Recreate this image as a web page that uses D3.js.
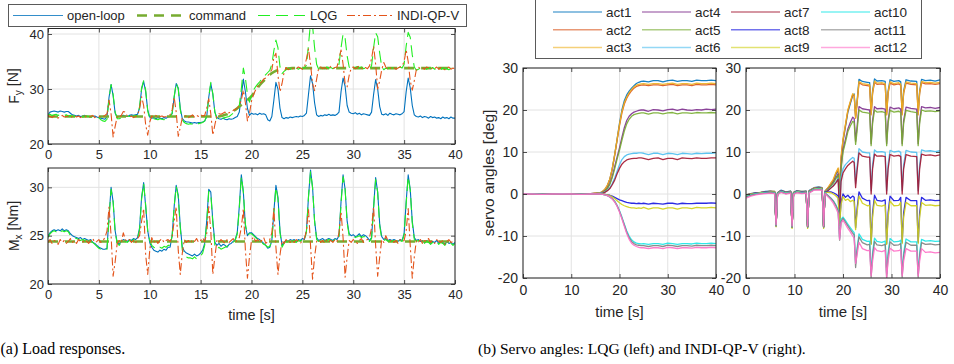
<!DOCTYPE html>
<html><head><meta charset="utf-8">
<script src="https://cdn.jsdelivr.net/npm/d3@7"></script>
<style>
body{margin:0;background:#fff;}
svg text{font-family:"Liberation Sans",Arial,Helvetica,sans-serif;fill:#262626;}
svg text.cap{font-family:"Liberation Serif","DejaVu Serif",serif;fill:#000;}
</style></head><body>
<svg id="chart" width="954" height="364"></svg>
<script>
// ---------------- DATA ----------------
// (a) load responses, sampled every 0.2 s from 0 to 40 s
const loadStep = 0.2;
const loadTime = d3.range(201).map(i => +(i * loadStep).toFixed(1));
const loadSeriesNames = ["open-loop", "command", "LQG", "INDI-QP-V"];

const fyOpenLoop = [
25.3,25.8,25.9,26.0,25.9,25.8,26.0,25.9,25.8,25.9,
25.9,25.6,25.3,25.2,25.1,25.2,25.0,25.1,25.2,25.0,
25.0,24.9,25.0,25.1,24.9,24.8,24.7,24.6,24.5,25.0,
28.5,30.8,28.8,25.6,24.9,25.0,25.1,25.2,25.1,25.0,
25.2,25.3,25.2,25.3,25.4,26.5,30.0,31.4,29.5,26.2,
24.9,24.7,24.8,24.6,24.8,24.7,24.6,24.8,24.7,24.9,
25.0,25.5,28.5,31.0,30.2,26.5,24.6,24.2,24.0,24.0,
23.9,23.8,23.9,23.8,23.9,23.9,24.0,24.2,25.0,28.5,
31.0,29.0,25.8,24.8,24.6,24.5,24.7,24.5,24.4,24.6,
24.5,24.6,24.8,25.0,25.8,28.8,31.8,29.5,26.5,25.2,
25.6,25.4,25.5,25.3,25.6,25.4,25.5,25.3,24.4,24.2,
25.0,28.0,31.2,30.0,26.5,24.8,24.6,24.8,24.7,24.9,
24.8,24.9,25.0,24.9,25.1,25.0,25.2,25.6,29.0,32.4,
31.0,27.5,25.3,25.0,25.2,25.1,25.3,25.2,25.4,25.2,
25.3,25.2,25.4,25.8,29.5,32.0,30.5,27.0,25.8,25.6,
25.5,25.7,25.4,25.6,25.3,25.5,25.4,25.3,25.2,25.8,
29.0,31.7,30.0,26.8,25.4,25.3,25.5,25.2,25.6,25.4,
25.3,25.5,25.4,25.3,25.5,25.9,29.5,32.0,30.2,27.0,
25.3,25.0,24.9,25.1,24.8,25.0,24.9,24.7,25.0,24.8,
24.9,24.7,24.8,24.6,24.9,24.7,24.8,24.6,24.9,24.7,
24.7];
const fyCommand = [
25.0,25.0,25.0,25.0,25.0,25.0,25.0,25.0,25.0,25.0,
25.0,25.0,25.0,25.0,25.0,25.0,25.0,25.0,25.0,25.0,
25.0,25.0,25.0,25.0,25.0,25.0,25.0,25.0,25.0,25.0,
25.0,25.0,25.0,25.0,25.0,25.0,25.0,25.0,25.0,25.0,
25.0,25.0,25.0,25.0,25.0,25.0,25.0,25.0,25.0,25.0,
25.0,25.0,25.0,25.0,25.0,25.0,25.0,25.0,25.0,25.0,
25.0,25.0,25.0,25.0,25.0,25.0,25.0,25.0,25.0,25.0,
25.0,25.0,25.0,25.0,25.0,25.0,25.0,25.0,25.0,25.0,
25.0,25.0,25.0,25.0,25.0,25.1,25.2,25.3,25.4,25.6,
25.8,26.0,26.2,26.5,26.8,27.1,27.4,27.7,28.0,28.3,
28.7,29.2,29.7,30.2,30.7,31.1,31.5,31.9,32.3,32.6,
32.9,33.1,33.3,33.4,33.5,33.6,33.65,33.7,33.7,33.75,
33.8,33.8,33.8,33.8,33.8,33.8,33.8,33.8,33.8,33.8,
33.8,33.8,33.8,33.8,33.8,33.8,33.8,33.8,33.8,33.8,
33.8,33.8,33.8,33.8,33.8,33.8,33.8,33.8,33.8,33.8,
33.8,33.8,33.8,33.8,33.8,33.8,33.8,33.8,33.8,33.8,
33.8,33.8,33.8,33.8,33.8,33.8,33.8,33.8,33.8,33.8,
33.8,33.8,33.8,33.8,33.8,33.8,33.8,33.8,33.8,33.8,
33.8,33.8,33.8,33.8,33.8,33.8,33.8,33.8,33.8,33.8,
33.8,33.8,33.8,33.8,33.8,33.8,33.8,33.8,33.8,33.8,
33.8];
const fyLQG = [
25.3,25.4,25.2,25.3,25.4,25.2,25.3,25.1,25.2,25.3,
25.1,25.2,25.0,25.1,24.9,25.0,25.1,24.9,25.0,25.1,
25.0,24.9,25.0,24.8,24.9,24.8,24.4,24.2,24.1,24.5,
28.2,30.8,29.0,25.8,24.6,24.6,24.7,24.9,25.0,25.1,
25.0,25.1,25.0,25.2,25.1,26.8,30.2,31.5,29.8,26.0,
24.6,24.5,24.6,24.5,24.4,24.6,24.5,24.4,24.6,24.8,
25.0,25.6,28.6,31.1,30.0,26.2,24.4,23.9,23.7,23.6,
23.7,23.6,23.8,23.6,23.7,23.8,23.9,24.2,25.0,28.6,
31.2,29.2,25.8,24.5,24.4,24.5,24.7,24.8,24.9,25.0,
25.3,25.6,25.9,26.3,27.0,30.0,33.8,32.0,29.0,27.6,
28.8,29.8,30.4,30.9,31.3,31.8,32.2,32.6,33.0,33.4,
34.5,37.0,38.9,37.5,34.0,32.8,33.2,33.5,33.8,33.6,
33.8,33.7,33.9,33.6,33.8,33.7,33.9,34.3,38.0,42.0,
41.5,37.5,34.5,33.6,33.8,33.9,33.7,34.0,33.8,33.9,
33.7,33.9,33.8,34.5,37.5,40.0,39.2,36.0,34.0,33.6,
33.8,33.9,34.1,33.8,34.0,33.7,33.8,33.9,33.7,34.2,
37.5,40.2,39.5,36.5,34.0,33.5,33.8,33.7,33.9,33.8,
33.9,33.7,33.8,34.0,33.8,34.5,37.8,40.3,39.4,36.2,
34.0,33.4,33.6,33.8,33.7,33.9,33.6,33.8,33.7,33.9,
33.6,33.8,33.7,33.5,33.8,33.6,33.7,33.5,33.8,33.6,
33.6];
const fyINDI = [
25.2,25.0,24.8,25.1,24.9,24.7,25.0,25.2,24.9,25.0,
25.1,24.8,25.0,25.2,24.9,25.1,24.8,25.0,24.9,25.1,
24.9,25.0,25.2,24.8,25.0,24.9,25.1,25.0,25.2,25.5,
28.0,25.5,21.3,23.2,25.0,24.8,25.2,25.9,25.8,25.0,
24.9,25.1,24.8,25.0,25.2,26.5,28.6,27.0,23.5,21.6,
24.0,25.1,24.9,25.2,24.8,25.0,25.1,24.9,25.0,25.2,
25.3,26.2,28.5,25.8,21.4,23.0,24.8,25.0,25.2,24.8,
25.0,25.3,24.9,25.2,25.0,25.3,25.1,25.2,26.5,28.2,
25.5,21.6,23.5,25.2,25.5,25.4,25.6,25.8,25.5,25.7,
25.9,26.1,26.3,26.5,27.0,28.0,29.8,27.5,24.2,25.5,
27.8,29.0,29.8,30.5,31.0,31.3,31.8,32.0,32.4,33.0,
33.5,35.8,36.5,32.5,29.5,31.0,33.0,33.9,33.5,33.8,
33.6,33.9,33.7,34.0,33.8,33.6,33.9,35.5,37.3,34.5,
31.0,29.7,31.8,33.8,34.0,33.7,33.9,33.6,33.8,34.1,
33.7,33.9,34.0,35.5,37.1,34.5,31.0,30.4,32.5,33.8,
34.0,33.7,33.9,34.2,33.8,33.6,33.9,33.7,34.2,35.5,
37.8,34.5,30.0,31.5,33.5,34.8,34.0,33.6,33.9,33.7,
33.9,33.6,33.8,34.0,34.2,35.0,37.1,35.0,31.5,29.8,
31.5,33.5,34.0,33.7,33.9,33.6,34.0,33.8,33.5,33.9,
33.7,34.0,33.6,33.9,33.7,33.5,33.8,34.0,33.6,33.8,
33.7];

const mxOpenLoop = [
25.0,25.3,25.5,25.6,25.5,25.6,25.5,25.7,25.5,25.6,
25.5,25.2,25.0,24.9,24.8,24.7,24.8,24.6,24.7,24.6,
24.5,24.6,24.3,24.2,24.0,23.8,23.7,23.6,23.6,23.7,
27.0,30.0,28.5,25.5,24.3,24.1,24.4,24.6,24.5,24.4,
24.6,24.5,24.7,24.6,24.8,25.8,29.0,30.5,28.0,25.5,
24.3,23.8,23.5,23.4,23.3,23.5,23.4,23.6,23.5,23.8,
23.8,25.0,28.0,30.2,29.2,26.0,23.8,23.4,23.2,23.1,
23.0,22.9,23.1,22.9,23.0,23.2,23.5,24.2,26.5,29.8,
29.5,26.5,24.3,24.0,24.2,23.9,24.1,24.0,23.8,24.1,
24.2,24.4,24.6,25.3,28.0,31.3,29.5,26.0,25.0,25.3,
25.3,25.1,24.9,24.7,24.6,24.4,24.2,24.0,23.7,23.8,
24.5,27.5,30.2,29.0,25.5,24.0,24.3,24.5,24.4,24.6,
24.5,24.6,24.4,24.6,24.5,24.7,24.6,25.5,29.0,31.8,
30.0,26.5,24.8,24.5,24.6,24.7,24.5,24.6,24.7,24.6,
24.5,24.7,24.6,25.0,28.5,31.3,29.8,26.5,25.2,25.0,
25.1,24.9,25.0,25.2,24.9,25.1,25.0,24.8,24.5,24.8,
28.0,31.0,29.5,26.2,24.9,24.6,24.7,24.5,24.6,24.5,
24.6,24.5,24.4,24.6,24.5,25.2,28.5,31.3,29.8,26.5,
24.8,24.5,24.6,24.4,24.5,24.3,24.5,24.4,24.2,24.4,
24.3,24.5,24.2,24.4,24.3,24.1,24.4,24.2,24.3,24.1,
24.3];
const mxCommand = [
24.4,24.4,24.4,24.4,24.4,24.4,24.4,24.4,24.4,24.4,
24.4,24.4,24.4,24.4,24.4,24.4,24.4,24.4,24.4,24.4,
24.4,24.4,24.4,24.4,24.4,24.4,24.4,24.4,24.4,24.4,
24.4,24.4,24.4,24.4,24.4,24.4,24.4,24.4,24.4,24.4,
24.4,24.4,24.4,24.4,24.4,24.4,24.4,24.4,24.4,24.4,
24.4,24.4,24.4,24.4,24.4,24.4,24.4,24.4,24.4,24.4,
24.4,24.4,24.4,24.4,24.4,24.4,24.4,24.4,24.4,24.4,
24.4,24.4,24.4,24.4,24.4,24.4,24.4,24.4,24.4,24.4,
24.4,24.4,24.4,24.4,24.4,24.4,24.4,24.4,24.4,24.4,
24.4,24.4,24.4,24.4,24.4,24.4,24.4,24.4,24.4,24.4,
24.4,24.4,24.4,24.4,24.4,24.4,24.4,24.4,24.4,24.4,
24.4,24.4,24.4,24.4,24.4,24.4,24.4,24.4,24.4,24.4,
24.4,24.4,24.4,24.4,24.4,24.4,24.4,24.4,24.4,24.4,
24.4,24.4,24.4,24.4,24.4,24.4,24.4,24.4,24.4,24.4,
24.4,24.4,24.4,24.4,24.4,24.4,24.4,24.4,24.4,24.4,
24.4,24.4,24.4,24.4,24.4,24.4,24.4,24.4,24.4,24.4,
24.4,24.4,24.4,24.4,24.4,24.4,24.4,24.4,24.4,24.4,
24.4,24.4,24.4,24.4,24.4,24.4,24.4,24.4,24.4,24.4,
24.4,24.4,24.4,24.4,24.4,24.4,24.4,24.4,24.4,24.4,
24.4,24.4,24.4,24.4,24.4,24.4,24.4,24.4,24.4,24.4,
24.4];
const mxLQG = [
24.8,25.2,25.4,25.5,25.4,25.6,25.4,25.5,25.4,25.5,
25.4,25.0,24.9,24.8,24.7,24.6,24.5,24.6,24.5,24.6,
24.5,24.4,24.3,24.1,23.9,23.7,23.6,23.5,23.5,23.6,
26.8,29.8,28.5,25.3,24.2,24.0,24.3,24.5,24.4,24.3,
24.5,24.4,24.6,24.5,24.7,25.6,28.8,30.4,28.2,25.5,
24.5,24.0,23.8,23.7,23.6,23.8,23.7,23.9,23.8,24.0,
24.0,25.0,28.0,30.1,29.0,25.8,23.5,23.0,22.8,22.7,
22.7,22.6,22.8,22.6,22.7,22.9,23.2,24.0,26.3,29.6,
29.3,26.3,24.0,23.6,23.8,23.6,23.7,23.8,23.9,24.1,
24.2,24.3,24.5,25.2,27.8,31.1,29.5,26.2,25.1,25.2,
25.2,25.0,24.8,24.6,24.5,24.3,24.1,24.0,23.8,23.9,
24.5,27.4,30.0,28.8,25.3,23.8,24.2,24.4,24.3,24.5,
24.4,24.5,24.3,24.5,24.4,24.6,24.5,25.4,29.0,31.6,
30.0,26.5,24.6,24.4,24.5,24.6,24.4,24.5,24.6,24.5,
24.4,24.6,24.5,24.9,28.3,31.1,29.8,26.3,25.0,24.9,
25.0,24.8,24.9,25.0,24.8,24.9,24.9,24.7,24.4,24.7,
27.8,30.8,29.5,26.0,24.7,24.5,24.6,24.4,24.5,24.4,
24.5,24.4,24.3,24.5,24.4,25.1,28.3,31.1,29.7,26.3,
24.6,24.4,24.5,24.3,24.4,24.2,24.4,24.3,24.1,24.3,
24.2,24.4,24.1,24.3,24.2,24.0,24.3,24.1,24.2,24.0,
24.2];
const mxINDI = [
24.3,24.6,24.2,24.5,24.4,24.1,24.6,24.3,24.5,24.2,
24.4,24.7,24.3,24.5,24.2,24.6,24.4,24.3,24.6,24.4,
24.2,24.5,24.7,24.3,24.4,24.6,24.3,24.5,24.8,25.5,
28.0,25.0,20.8,22.3,24.2,24.5,24.3,25.3,24.6,24.4,
24.6,24.3,24.5,24.2,24.7,25.0,26.5,27.8,23.0,21.0,
23.5,24.8,24.3,24.6,24.2,24.5,24.7,24.3,24.5,24.6,
24.4,24.9,26.5,28.0,23.5,21.0,23.2,24.6,24.3,24.5,
24.2,24.6,24.4,24.7,24.3,24.5,24.8,24.4,25.2,28.0,
25.5,21.0,22.8,24.5,24.3,24.6,24.4,24.2,24.6,24.3,
24.5,24.7,24.3,24.6,24.8,25.8,27.8,23.5,20.6,22.8,
24.5,24.9,24.4,24.6,24.3,24.5,24.8,24.2,24.4,24.6,
25.3,27.8,23.8,21.0,23.0,24.5,24.2,24.6,24.4,24.3,
24.5,24.3,24.6,24.4,24.2,24.5,24.7,25.5,27.8,24.0,
20.5,22.8,24.4,24.6,24.3,24.5,24.2,24.6,24.4,24.5,
24.3,24.6,24.4,25.3,27.5,24.8,20.7,22.8,24.5,24.3,
24.6,24.4,24.2,24.5,24.7,24.3,24.5,24.6,24.8,25.8,
28.0,24.0,20.8,22.8,24.6,24.3,25.0,24.5,24.4,24.6,
24.3,24.5,24.2,24.6,24.4,24.5,25.5,27.8,24.0,20.6,
22.8,24.5,24.3,24.6,24.2,24.5,24.4,24.7,24.3,24.5,
24.2,24.6,24.4,24.3,24.5,24.1,24.4,24.6,24.3,24.4,
24.3];

// (b) servo angles
const actNames = ["act1","act2","act3","act4","act5","act6","act7","act8","act9","act10","act11","act12"];
const lqgTime = [0,2,4,6,8,10,12,14,15,16,16.5,17,17.5,18,18.5,19,19.5,20,20.5,21,21.5,22,22.5,23,23.5,24,24.5,25,26,27,28,29,30,31,32,33,34,35,36,37,38,39,40];
const lqgAct1 = [0,0.1,0,0.1,0,0.1,0,0.1,0.2,0.3,0.6,1.1,2.0,3.5,6.0,9.3,13.0,16.8,20.0,22.2,23.6,24.5,25.2,25.8,26.3,26.6,26.8,26.9,26.7,27.0,27.0,26.7,27.0,27.1,26.8,27.0,27.0,26.8,27.1,27.0,27.0,27.1,27.0];
const lqgAct2 = [0,0,0.1,0,0,0.1,0,0.1,0.2,0.3,0.6,1.1,2.0,3.5,5.9,9.2,12.8,16.3,19.3,21.4,22.8,23.8,24.6,25.2,25.6,25.8,25.9,26.0,25.8,26.0,26.0,25.8,26.0,26.1,25.8,26.0,26.0,25.8,26.1,26.0,26.0,26.1,26.0];
const lqgAct3 = [0,0.1,0,0,0.1,0,0.1,0,0.2,0.3,0.6,1.2,2.1,3.6,6.1,9.4,13.0,16.6,19.6,21.7,23.1,24.1,24.9,25.5,25.9,26.1,26.2,26.3,26.1,26.3,26.3,26.1,26.3,26.4,26.1,26.3,26.3,26.1,26.4,26.3,26.3,26.4,26.3];
const lqgAct4 = [0,0,0.1,0,0,0.1,0,0.1,0.1,0.2,0.4,0.8,1.4,2.5,4.2,6.5,8.8,11.0,13.5,15.8,17.5,18.5,19.1,19.5,19.7,19.9,20.0,20.0,19.7,20.1,20.0,19.8,20.1,20.2,19.9,20.2,20.0,19.9,20.1,20.0,20.2,20.1,20.2];
const lqgAct5 = [0,0,0,0.1,0,0,0.1,0,0.1,0.2,0.4,0.7,1.3,2.3,3.9,6.0,8.3,10.4,12.8,15.0,16.7,17.8,18.5,18.9,19.1,19.2,19.3,19.3,19.0,19.3,19.3,19.1,19.3,19.4,19.1,19.3,19.3,19.2,19.4,19.3,19.3,19.4,19.3];
const lqgAct6 = [0,0,0.1,0,0,0.1,0,0,0.1,0.2,0.3,0.5,0.9,1.5,2.5,3.8,5.4,7.0,8.2,8.9,9.3,9.5,9.6,9.7,9.7,9.8,9.8,9.7,9.4,9.7,9.7,9.4,9.7,9.6,9.4,9.7,9.6,9.5,9.7,9.6,9.7,9.7,9.8];
const lqgAct7 = [0,0,0,0,0.1,0,0,0,0.1,0.1,0.2,0.4,0.8,1.3,2.2,3.3,4.8,6.1,7.1,7.7,8.1,8.3,8.4,8.5,8.5,8.6,8.6,8.5,8.2,8.5,8.6,8.2,8.5,8.5,8.2,8.6,8.5,8.4,8.6,8.5,8.5,8.6,8.6];
const lqgAct8 = [0,0,0,0.1,0,0,0,0,0,0,0,-0.1,-0.2,-0.3,-0.5,-0.8,-1.1,-1.4,-1.6,-1.8,-2.0,-2.1,-2.2,-2.2,-2.3,-2.2,-2.3,-2.2,-2.4,-2.2,-2.3,-2.4,-2.2,-2.2,-2.4,-2.2,-2.3,-2.3,-2.2,-2.2,-2.2,-2.1,-2.2];
const lqgAct9 = [0,0,0,0,0,0.1,0,0,0,0,0,-0.1,-0.2,-0.4,-0.7,-1.1,-1.6,-2.1,-2.5,-2.8,-3.0,-3.2,-3.3,-3.3,-3.4,-3.3,-3.4,-3.2,-3.6,-3.3,-3.3,-3.6,-3.3,-3.3,-3.6,-3.3,-3.3,-3.5,-3.2,-3.3,-3.3,-3.2,-3.3];
const lqgAct10 = [0,0,0,0,0,0,0,0,0,0,-0.1,-0.2,-0.4,-0.7,-1.1,-1.7,-2.7,-4.0,-5.5,-7.2,-8.8,-10.0,-10.9,-11.4,-11.7,-11.8,-11.9,-11.8,-12.0,-11.8,-11.8,-12.0,-11.7,-11.8,-12.0,-11.8,-11.8,-11.9,-11.7,-11.8,-11.8,-11.7,-11.8];
const lqgAct11 = [0,-0.1,0,0,-0.1,0,0,0,0,0,-0.1,-0.2,-0.4,-0.7,-1.1,-1.8,-2.8,-4.1,-5.7,-7.4,-9.1,-10.4,-11.3,-11.8,-12.1,-12.2,-12.3,-12.3,-12.5,-12.3,-12.3,-12.5,-12.2,-12.3,-12.5,-12.3,-12.3,-12.4,-12.2,-12.3,-12.3,-12.2,-12.3];
const lqgAct12 = [0,0,-0.1,0,0,0,-0.1,0,0,0,-0.1,-0.2,-0.4,-0.7,-1.2,-1.9,-2.9,-4.3,-5.9,-7.7,-9.4,-10.8,-11.7,-12.2,-12.5,-12.7,-12.8,-12.8,-13.0,-12.8,-12.8,-13.0,-12.7,-12.8,-13.0,-12.8,-12.8,-12.9,-12.7,-12.8,-12.8,-12.7,-12.8];

const indiTime = [0,1,2,3,4,5,5.9,6.2,6.5,7.2,8.2,9.2,9.5,9.8,10.5,11.5,12.4,12.7,13.0,14,15,15.7,16.0,16.3,
17,17.5,18,18.5,19.0,19.3,19.6,20,20.5,21,21.5,22,22.3,22.6,22.9,23.3,24,25,25.5,25.8,26.1,26.5,27,28,28.7,29.0,29.3,29.7,30.5,31.5,31.9,32.2,32.5,33,34,35.2,35.5,35.8,36.2,37,38,39,40];
const indiAct1 = [-0.2,0.1,0.3,0.4,0.6,0.7,0.6,-7.3,0.3,0.9,0.5,0.7,-7.6,0.4,0.8,0.6,0.7,-7.6,0.8,1.5,1.7,1.5,-7.6,0.7,
1.5,2.2,3.0,4.5,5.8,1.0,8.0,12.5,16.0,19.5,21.5,23.5,23.8,18.5,22.0,27.3,26.8,26.6,26.5,19.5,24.5,27.4,26.9,27.0,26.8,19.5,24.5,27.2,26.8,27.0,26.7,19.5,24.5,27.2,26.9,26.8,19.5,24.5,27.3,27.0,27.1,26.9,27.2];
const indiAct2 = [-0.3,0.0,0.2,0.3,0.5,0.6,0.5,-7.4,0.2,0.8,0.4,0.6,-7.7,0.3,0.7,0.5,0.6,-7.7,0.7,1.4,1.6,1.4,-7.7,0.6,
1.6,2.5,3.3,4.8,6.0,1.2,8.5,12.8,16.3,19.8,21.8,23.6,23.5,18.2,21.5,26.5,26.0,25.8,25.7,19.0,24.0,26.6,26.1,26.2,26.0,19.0,24.0,26.4,26.0,26.2,25.9,19.0,24.0,26.4,26.1,26.0,19.0,24.0,26.5,26.2,26.3,26.1,26.3];
const indiAct3 = [-0.2,0.1,0.2,0.4,0.5,0.7,0.6,-7.5,0.3,0.8,0.5,0.6,-7.9,0.4,0.7,0.6,0.6,-7.9,0.7,1.4,1.6,1.4,-7.9,0.6,
1.7,2.6,3.5,5.0,6.2,1.5,8.8,13.0,16.5,20.0,22.0,23.9,23.6,18.0,21.8,26.8,26.3,26.1,26.0,18.8,24.2,26.9,26.4,26.5,26.3,18.8,24.2,26.7,26.3,26.5,26.2,18.8,24.2,26.7,26.4,26.3,18.8,24.2,26.8,26.5,26.6,26.4,26.6];
const indiAct4 = [-0.4,-0.1,0.1,0.3,0.4,0.5,0.4,-7.5,0.1,0.7,0.3,0.5,-7.8,0.2,0.6,0.4,0.5,-7.8,0.5,1.2,1.4,1.2,-7.8,0.4,
1.3,2.0,2.7,3.8,4.8,-0.5,6.5,10.5,13.0,15.5,17.0,18.3,18.0,12.5,16.0,20.8,20.3,20.1,20.0,12.0,17.5,20.8,20.3,20.4,20.2,12.0,17.5,20.7,20.3,20.5,20.2,12.0,17.5,20.7,20.4,20.2,12.0,17.5,20.8,20.5,20.6,20.4,20.6];
const indiAct5 = [-0.4,0.0,0.1,0.2,0.4,0.5,0.4,-7.6,0.1,0.7,0.3,0.5,-7.9,0.2,0.6,0.4,0.5,-7.9,0.5,1.2,1.4,1.2,-7.9,0.4,
1.2,1.9,2.6,3.6,4.5,-1.0,6.0,10.0,12.3,14.8,16.2,17.3,17.0,11.8,15.0,20.0,19.5,19.3,19.2,11.5,16.8,20.0,19.5,19.6,19.4,11.5,16.8,19.9,19.5,19.7,19.4,11.5,16.8,19.9,19.6,19.4,11.5,16.8,20.0,19.7,19.8,19.6,19.8];
const indiAct6 = [-0.5,-0.1,0.1,0.2,0.4,0.5,0.4,-7.3,0.1,0.7,0.3,0.5,-7.7,0.2,0.6,0.4,0.5,-7.7,0.5,1.2,1.3,1.2,-7.7,0.4,
1.0,1.5,2.0,2.8,3.8,-4.0,4.0,6.0,7.0,7.6,8.2,8.7,8.5,2.5,6.5,10.8,10.0,9.8,9.8,0.8,7.0,10.5,10.0,10.1,9.9,0.8,7.0,10.4,10.0,10.2,9.9,0.8,7.0,10.4,10.0,9.9,0.8,7.0,10.5,10.2,10.3,10.1,10.3];
const indiAct7 = [-0.5,-0.2,0.0,0.2,0.3,0.4,0.3,-7.4,0.0,0.6,0.2,0.4,-7.8,0.1,0.5,0.3,0.4,-7.8,0.4,1.1,1.3,1.1,-7.8,0.3,
0.9,1.4,1.9,2.6,3.5,-5.5,3.0,5.0,6.0,6.8,7.3,7.8,7.5,1.5,5.5,9.8,9.0,8.8,8.8,0.0,6.0,9.5,9.0,9.1,8.9,0.0,6.0,9.4,9.0,9.2,8.9,0.0,6.0,9.4,9.0,8.9,0.0,6.0,9.5,9.2,9.3,9.1,9.3];
const indiAct8 = [-0.3,0.0,0.2,0.3,0.5,0.6,0.5,-7.6,0.2,0.8,0.4,0.6,-7.9,0.3,0.7,0.5,0.6,-7.9,0.6,1.3,1.5,1.3,-7.9,0.5,
0.5,0.5,0.3,0.0,-0.5,-7.0,-2.0,0.0,-0.8,-0.3,-1.0,-0.5,-0.8,-8.0,-3.5,0.5,-1.0,-1.6,-1.5,-11.8,-4.5,-0.3,-1.5,-1.7,-1.4,-11.8,-4.5,-0.5,-1.6,-1.5,-0.8,-11.5,-4.5,-0.8,-1.6,-1.6,-11.5,-4.5,-0.8,-1.5,-1.4,-1.6,-1.5];
const indiAct9 = [-0.4,0.0,0.1,0.3,0.4,0.5,0.5,-7.8,0.1,0.7,0.3,0.5,-8.2,0.2,0.6,0.4,0.5,-8.2,0.5,1.2,1.4,1.2,-8.2,0.4,
0.4,0.3,0.0,-0.4,-1.0,-7.5,-2.5,-0.6,-1.5,-1.2,-1.8,-1.5,-1.8,-8.5,-4.5,-0.5,-2.2,-2.8,-2.7,-12.0,-5.5,-1.5,-2.7,-2.9,-2.6,-12.0,-5.5,-1.7,-2.8,-2.7,-2.0,-11.8,-5.5,-2.0,-2.8,-2.8,-11.8,-5.5,-2.0,-2.7,-2.6,-2.8,-2.7];
const indiAct10 = [-0.6,-0.2,0.0,0.2,0.3,0.4,0.3,-7.5,0.0,0.6,0.2,0.4,-7.8,0.1,0.5,0.3,0.4,-7.8,0.4,1.1,1.2,1.1,-7.8,0.3,
-0.5,-1.0,-1.6,-2.5,-3.8,-10.5,-6.0,-5.5,-6.3,-7.2,-8.0,-8.8,-9.2,-16.5,-13.0,-9.5,-10.8,-11.3,-11.2,-19.0,-14.0,-10.5,-11.3,-11.5,-11.2,-19.0,-14.0,-10.6,-11.4,-11.3,-11.0,-19.0,-14.0,-10.7,-11.4,-11.4,-19.0,-14.0,-10.8,-11.2,-11.1,-11.3,-11.2];
const indiAct11 = [-0.7,-0.3,-0.1,0.1,0.2,0.3,0.2,-7.6,-0.1,0.5,0.1,0.3,-7.9,0.0,0.4,0.2,0.3,-7.9,0.3,1.0,1.1,1.0,-7.9,0.2,
-0.5,-1.0,-1.7,-2.7,-4.0,-11.0,-6.5,-5.8,-6.7,-7.6,-8.5,-9.3,-9.7,-17.5,-13.5,-10.2,-11.6,-12.1,-12.0,-19.8,-14.8,-11.3,-12.1,-12.3,-12.0,-20.0,-14.8,-11.4,-12.2,-12.1,-11.8,-19.8,-14.8,-11.5,-12.2,-12.2,-19.8,-14.8,-11.6,-12.0,-11.9,-12.1,-12.0];
const indiAct12 = [-1.0,-0.5,-0.2,0.0,0.1,0.2,0.1,-7.3,-0.2,0.4,0.0,0.2,-7.6,-0.1,0.3,0.1,0.2,-7.6,0.2,0.9,1.0,0.9,-7.6,0.1,
-0.8,-1.4,-2.2,-3.3,-4.6,-10.8,-7.0,-6.2,-7.2,-8.2,-9.0,-10.0,-10.5,-16.5,-14.5,-11.5,-13.0,-13.5,-13.4,-19.5,-16.0,-12.8,-13.5,-13.7,-13.4,-19.8,-16.0,-12.9,-13.6,-13.5,-13.2,-19.5,-16.0,-13.0,-13.6,-13.6,-19.5,-16.0,-13.0,-13.9,-13.8,-14.0,-13.9];

// tick values
const loadTicksX = [0,5,10,15,20,25,30,35,40];
const fyTicksY = [20,30,40];
const mxTicksY = [20,25,30];
const servoTicksX = [0,10,20,30,40];
const servoTicksY = [-20,-10,0,10,20,30];

// ---------------- STYLES ----------------
const loadStyles = [
  {color:"#0072BD", width:1.1, dash:null},
  {color:"#77AC30", width:2.6, dash:"10,7"},
  {color:"#22EE22", width:1.1, dash:"12,6"},
  {color:"#E4541B", width:1.1, dash:"8,3,2,3"}
];
const actColors = ["#0072BD","#D95319","#EDB120","#7E2F8E","#77AC30","#4DBEEE","#A2142F","#1414E0","#CFCF14","#19E6E6","#7F7F7F","#FF6EC7"];

// ---------------- DRAW ----------------
const svg = d3.select("#chart");
const defs = svg.append("defs");
const AX = "#262626";

function panel(cfg) {
  const x = d3.scaleLinear().domain(cfg.xd).range([cfg.x0, cfg.x1]);
  const y = d3.scaleLinear().domain(cfg.yd).range([cfg.y1, cfg.y0]);
  const g = svg.append("g");
  g.append("g").selectAll("line").data(cfg.xt).join("line")
    .attr("x1", d => x(d)).attr("x2", d => x(d)).attr("y1", cfg.y0).attr("y2", cfg.y1)
    .attr("stroke", "#e2e2e2").attr("stroke-width", 1);
  g.append("g").selectAll("line").data(cfg.yt).join("line")
    .attr("y1", d => y(d)).attr("y2", d => y(d)).attr("x1", cfg.x0).attr("x2", cfg.x1)
    .attr("stroke", "#e2e2e2").attr("stroke-width", 1);
  defs.append("clipPath").attr("id", cfg.id).append("rect")
    .attr("x", cfg.x0).attr("y", cfg.y0).attr("width", cfg.x1 - cfg.x0).attr("height", cfg.y1 - cfg.y0);
  const lg = g.append("g").attr("clip-path", `url(#${cfg.id})`);
  cfg.series.forEach(s => {
    const line = d3.line().x((d, i) => x(s.t[i])).y(d => y(d));
    lg.append("path").attr("d", line(s.v)).attr("fill", "none")
      .attr("stroke", s.color).attr("stroke-width", s.width)
      .attr("stroke-dasharray", s.dash).attr("stroke-opacity", s.opacity || 1)
      .attr("stroke-linejoin", "round");
  });
  const fmt = d => String(d);
  const styleAxis = (sel, fs) => {
    sel.select(".domain").remove();
    sel.selectAll(".tick line").attr("stroke", AX).attr("stroke-width", 0.8);
    sel.selectAll(".tick text").attr("fill", AX).style("font-size", fs + "px")
      .attr("font-family", null);
  };
  g.append("g").attr("transform", `translate(0,${cfg.y1})`)
    .call(d3.axisBottom(x).tickValues(cfg.xt).tickFormat(fmt).tickSizeInner(-4).tickSizeOuter(0).tickPadding(cfg.xpad))
    .call(s => styleAxis(s, cfg.fs));
  g.append("g").attr("transform", `translate(0,${cfg.y0})`)
    .call(d3.axisTop(x).tickValues(cfg.xt).tickFormat("").tickSizeInner(-4).tickSizeOuter(0))
    .call(s => styleAxis(s, cfg.fs));
  g.append("g").attr("transform", `translate(${cfg.x0},0)`)
    .call(d3.axisLeft(y).tickValues(cfg.yt).tickFormat(fmt).tickSizeInner(-4).tickSizeOuter(0).tickPadding(cfg.ypad))
    .call(s => styleAxis(s, cfg.fs));
  g.append("g").attr("transform", `translate(${cfg.x1},0)`)
    .call(d3.axisRight(y).tickValues(cfg.yt).tickFormat("").tickSizeInner(-4).tickSizeOuter(0))
    .call(s => styleAxis(s, cfg.fs));
  g.append("rect").attr("x", cfg.x0).attr("y", cfg.y0).attr("width", cfg.x1 - cfg.x0).attr("height", cfg.y1 - cfg.y0)
    .attr("fill", "none").attr("stroke", AX).attr("stroke-width", 1);
  return {x, y, g};
}

const loadSeries = (vals) => vals.map((v, i) => Object.assign({t: loadTime, v}, loadStyles[i]));

panel({id:"cFy", x0:48, x1:455, y0:28.5, y1:144, xd:[0,40], yd:[20,41], xt:loadTicksX, yt:fyTicksY, fs:13, xpad:6, ypad:4,
  series: loadSeries([fyOpenLoop, fyCommand, fyLQG, fyINDI])});
panel({id:"cMx", x0:48, x1:455, y0:168, y1:284, xd:[0,40], yd:[20,32], xt:loadTicksX, yt:mxTicksY, fs:13, xpad:6, ypad:4,
  series: loadSeries([mxOpenLoop, mxCommand, mxLQG, mxINDI])});

const lqgVals = [lqgAct1,lqgAct2,lqgAct3,lqgAct4,lqgAct5,lqgAct6,lqgAct7,lqgAct8,lqgAct9,lqgAct10,lqgAct11,lqgAct12];
const indiVals = [indiAct1,indiAct2,indiAct3,indiAct4,indiAct5,indiAct6,indiAct7,indiAct8,indiAct9,indiAct10,indiAct11,indiAct12];

panel({id:"cS1", x0:523, x1:716, y0:68, y1:278, xd:[0,40], yd:[-20,30], xt:servoTicksX, yt:servoTicksY, fs:14, xpad:7, ypad:5,
  series: lqgVals.map((v, i) => ({t: lqgTime, v, color: actColors[i], width: 1.3, opacity: 0.9}))});
panel({id:"cS2", x0:746, x1:940, y0:68, y1:278, xd:[0,40], yd:[-20,30], xt:servoTicksX, yt:servoTicksY, fs:14, xpad:7, ypad:5,
  series: indiVals.map((v, i) => ({t: indiTime, v, color: actColors[i], width: 1.3, opacity: 0.9}))});

function ylabel(x, y, main, sub, rest, fs) {
  const t = svg.append("text").attr("transform", `translate(${x},${y}) rotate(-90)`)
    .attr("text-anchor", "middle").style("font-size", fs + "px");
  t.append("tspan").text(main);
  if (sub) {
    t.append("tspan").attr("dy", "0.3em").style("font-size", (fs * 0.72) + "px").text(sub);
    t.append("tspan").attr("dy", "-0.3em").text(rest);
  }
  return t;
}
ylabel(19, 86, "F", "y", " [N]", 14);
ylabel(19, 226, "M", "x", " [Nm]", 14);
ylabel(494, 173, "servo angles [deg]", null, null, 15.5);

svg.append("text").attr("x", 251.5).attr("y", 320).attr("text-anchor", "middle").style("font-size", "14.5px").text("time [s]");
svg.append("text").attr("x", 619.5).attr("y", 317).attr("text-anchor", "middle").style("font-size", "15px").text("time [s]");
svg.append("text").attr("x", 843).attr("y", 317).attr("text-anchor", "middle").style("font-size", "15px").text("time [s]");

const lgA = svg.append("g");
lgA.append("rect").attr("x", 8.5).attr("y", 4.5).attr("width", 458).attr("height", 22)
  .attr("fill", "#fff").attr("stroke", "#5a5a5a").attr("stroke-width", 1);
const legAX = [[13, 63, 67], [137, 185, 189], [258, 305, 310], [347, 393, 397]];
loadSeriesNames.forEach((name, i) => {
  const st = loadStyles[i];
  lgA.append("line").attr("x1", legAX[i][0]).attr("x2", legAX[i][1]).attr("y1", 15.5).attr("y2", 15.5)
    .attr("stroke", st.color).attr("stroke-width", st.width).attr("stroke-dasharray", st.dash)
    .attr("stroke-opacity", i === 0 ? 0.8 : 1);
  lgA.append("text").attr("x", legAX[i][2]).attr("y", 20).style("font-size", "13px").attr("fill", "#000").text(name);
});

const lgB = svg.append("g");
lgB.append("rect").attr("x", 535.5).attr("y", -1).attr("width", 386).attr("height", 59.5)
  .attr("fill", "#fff").attr("stroke", "#5a5a5a").attr("stroke-width", 1);
const legBcols = [553, 642, 731, 821];
const legBrows = [12, 29.8, 47.6];
actNames.forEach((name, i) => {
  const c = Math.floor(i / 3), r = i % 3;
  const x0 = legBcols[c], yy = legBrows[r];
  lgB.append("line").attr("x1", x0).attr("x2", x0 + 49).attr("y1", yy).attr("y2", yy)
    .attr("stroke", actColors[i]).attr("stroke-width", 1.5).attr("stroke-opacity", 0.6);
  lgB.append("text").attr("x", x0 + 53).attr("y", yy + 4.7).style("font-size", "13.5px").attr("fill", "#000").text(name);
});

svg.append("text").attr("class", "cap").attr("x", 0.5).attr("y", 354).style("font-size", "16px").text("(a) Load responses.");
svg.append("text").attr("class", "cap").attr("x", 478).attr("y", 354).style("font-size", "15.5px").text("(b) Servo angles: LQG (left) and INDI-QP-V (right).");
</script>
</body></html>
